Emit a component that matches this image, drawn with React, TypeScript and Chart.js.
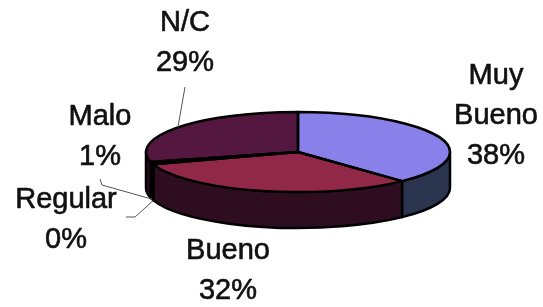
import React, { useEffect, useRef } from "react";
import { Chart, registerables } from "chart.js";

Chart.register(...registerables);

// ---- data ----
const categories = ["Muy Bueno", "Bueno", "Regular", "Malo", "N/C"];
const values = [38, 32, 0, 1, 29];
const labelTexts = [
  ["Muy", "Bueno", "38%"],
  ["Bueno", "32%"],
  ["Regular", "0%"],
  ["Malo", "1%"],
  ["N/C", "29%"],
];

// ---- styles ----
const topColors = ["#8a80ea", "#922848", "#4a1238", "#4a1238", "#54173f"];
const sideColors = ["#2b3550", "#2e0d20", "#2a0a22", "#2a0a22", "#2a0a22"];
const labelOffsets = [
  [198, -78],
  [-70, 97],
  [-232, 46],
  [-198, -37],
  [-113, -131],
];
const leaderStarts: (number[][] | null)[] = [
  null,
  null,
  [
    [-172, 65],
    [-163, 65],
  ],
  [
    [-198, 27],
    [-196, 33],
  ],
  [[-113, -65]],
];
const TILT = 40 / 152;
const DEPTH = 36;
const LINE_H = 40;
const FONT = '29px "Liberation Sans", Arial, sans-serif';

const pie3d = {
  id: "pie3d",
  beforeDatasetsDraw(chart: any) {
    const ctx = chart.ctx as CanvasRenderingContext2D;
    const arcs = chart.getDatasetMeta(0).data as any[];
    if (!arcs.length) return;
    const { x: cx, y: cy, outerRadius: r } = arcs[0];
    const ry = r * TILT;
    ctx.save();
    ctx.lineWidth = 2.5;
    ctx.lineJoin = "round";
    ctx.strokeStyle = "#000";
    arcs.forEach((arc, i) => {
      const a = Math.max(arc.startAngle, 0);
      const b = Math.min(arc.endAngle, Math.PI);
      if (b - a <= 0.0001) return;
      ctx.beginPath();
      ctx.ellipse(cx, cy, r, ry, 0, a, b);
      ctx.ellipse(cx, cy + DEPTH, r, ry, 0, b, a, true);
      ctx.closePath();
      ctx.fillStyle = sideColors[i];
      ctx.fill();
      ctx.stroke();
    });
    ctx.restore();
    ctx.save();
    ctx.translate(cx, cy);
    ctx.scale(1, TILT);
    ctx.translate(-cx, -cy);
  },
  afterDatasetsDraw(chart: any) {
    const ctx = chart.ctx as CanvasRenderingContext2D;
    const arcs = chart.getDatasetMeta(0).data as any[];
    if (!arcs.length) return;
    ctx.restore();
    const { x: cx, y: cy, outerRadius: r } = arcs[0];
    const ry = r * TILT;
    ctx.save();
    ctx.lineWidth = 2.5;
    ctx.lineJoin = "round";
    ctx.strokeStyle = "#000";
    arcs.forEach((arc) => {
      if (arc.endAngle - arc.startAngle <= 0.0001) return;
      ctx.beginPath();
      ctx.moveTo(cx, cy);
      ctx.ellipse(cx, cy, r, ry, 0, arc.startAngle, arc.endAngle);
      ctx.closePath();
      ctx.stroke();
    });
    // leader lines
    ctx.lineWidth = 1;
    ctx.strokeStyle = "#555";
    arcs.forEach((arc, i) => {
      const pts = leaderStarts[i];
      if (!pts) return;
      const m = (arc.startAngle + arc.endAngle) / 2;
      const ex = cx + r * Math.cos(m);
      let ey = cy + ry * Math.sin(m);
      if (Math.sin(m) > 0) ey += DEPTH;
      ctx.beginPath();
      ctx.moveTo(cx + pts[0][0], cy + pts[0][1]);
      for (let k = 1; k < pts.length; k++) ctx.lineTo(cx + pts[k][0], cy + pts[k][1]);
      ctx.lineTo(ex, ey);
      ctx.stroke();
    });
    // labels
    ctx.font = FONT;
    ctx.fillStyle = "#111";
    ctx.strokeStyle = "#111";
    ctx.lineWidth = 0.6;
    ctx.textAlign = "center";
    ctx.textBaseline = "alphabetic";
    labelTexts.forEach((lines, i) => {
      const [dx, dy] = labelOffsets[i];
      lines.forEach((t, j) => {
        const x = cx + dx;
        const y = cy + dy + j * LINE_H + 10;
        ctx.fillText(t, x, y);
        ctx.strokeText(t, x, y);
      });
    });
    ctx.restore();
  },
};

export default function App() {
  const ref = useRef<HTMLCanvasElement>(null);
  useEffect(() => {
    if (!ref.current) return;
    const chart = new Chart(ref.current, {
      type: "pie",
      data: {
        labels: categories,
        datasets: [
          {
            data: values,
            backgroundColor: topColors,
            borderWidth: 0,
          },
        ],
      },
      options: {
        responsive: false,
        animation: false,
        layout: { padding: { left: 146, right: 93, top: 0, bottom: 3 } },
        plugins: {
          legend: { display: false },
          tooltip: { enabled: false },
        },
        events: [],
      },
      plugins: [pie3d],
    });
    return () => chart.destroy();
  }, []);
  return (
    <div style={{ position: "fixed", left: 0, top: 0, width: 543, height: 307, background: "#fff" }}>
      <canvas ref={ref} width={543} height={307} />
    </div>
  );
}
